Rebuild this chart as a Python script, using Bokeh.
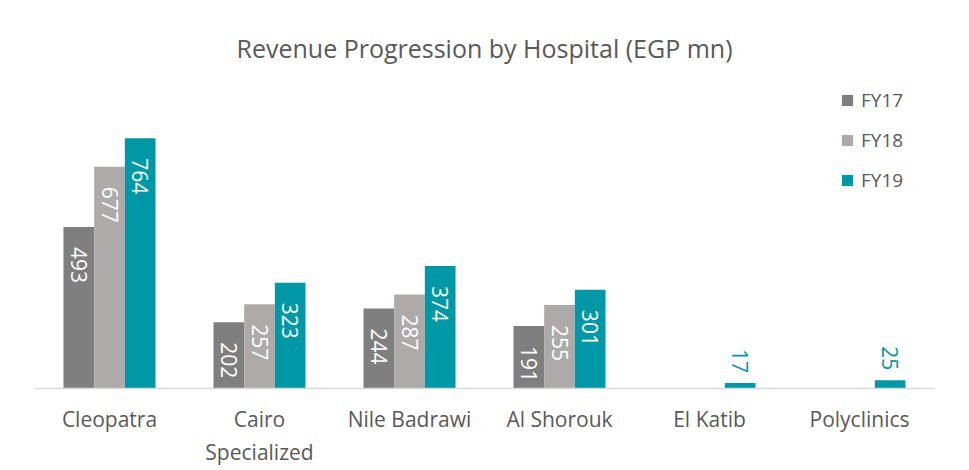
import math
from bokeh.plotting import figure
from bokeh.models import ColumnDataSource, FactorRange
from bokeh.transform import dodge
from bokeh.core.properties import value
from bokeh.embed import file_html
from bokeh.resources import INLINE

categories = ["Cleopatra", "Cairo\nSpecialized", "Nile Badrawi", "Al Shorouk", "El Katib", "Polyclinics"]
series = ["FY17", "FY18", "FY19"]
fy17 = [493, 202, 244, 191, None, None]
fy18 = [677, 257, 287, 255, None, None]
fy19 = [764, 323, 374, 301, 17, 25]
colors = ["#7F7F7F", "#AEAAAA", "#0098A6"]

FONT = "Open Sans"
TXT = "#595959"

p = figure(
    width=960, height=470,
    x_range=FactorRange(factors=categories, range_padding=0),
    y_range=(0, 940),
    output_backend="svg", toolbar_location=None,
    min_border_left=34, min_border_right=26, min_border_top=80, min_border_bottom=82,
    title="Revenue Progression by Hospital (EGP mn)",
)
p.title.align = "center"
p.title.text_font = FONT
p.title.text_font_size = "25px"
p.title.text_font_style = "normal"
p.title.text_color = TXT
p.title.standoff = 32

p.outline_line_color = None
p.grid.visible = False
p.yaxis.visible = False
p.xaxis.axis_line_color = "#D9D9D9"
p.xaxis.axis_line_width = 1.5
p.xaxis.major_tick_line_color = None
p.xaxis.minor_tick_line_color = None
p.xaxis.major_label_text_font = FONT
p.xaxis.major_label_text_font_size = "21px"
p.xaxis.major_label_text_color = TXT
p.xaxis.major_label_standoff = 10

bw = 0.2045
offsets = [-bw, 0.0, bw]
data_series = [fy17, fy18, fy19]

for name, vals, off, col in zip(series, data_series, offsets, colors):
    tops = [float("nan") if v is None else v for v in vals]
    src = ColumnDataSource(dict(cat=categories, top=tops))
    p.vbar(x=dodge("cat", off, range=p.x_range), top="top", width=bw, bottom=0,
           source=src, fill_color=col, line_color=None, legend_label=name)

    cats, ys, labels, aligns, yoffs, tcols = [], [], [], [], [], []
    for c, v in zip(categories, vals):
        if v is None:
            continue
        cats.append(c)
        ys.append(v)
        labels.append(str(v))
        if v >= 100:
            aligns.append("left"); yoffs.append(20); tcols.append("#FFFFFF")
        else:
            aligns.append("right"); yoffs.append(-10); tcols.append(col)
    lsrc = ColumnDataSource(dict(cat=cats, y=ys, label=labels, align=aligns, yoff=yoffs, tcol=tcols))
    p.text(x=dodge("cat", off, range=p.x_range), y="y", text="label", source=lsrc,
           angle=-math.pi / 2, text_align="align", text_baseline="middle",
           y_offset="yoff", text_color="tcol",
           text_font=value(FONT), text_font_size="21px")

lg = p.legend[0]
lg.location = "top_right"
lg.margin = 0
lg.padding = 0
lg.border_line_color = None
lg.background_fill_alpha = 0
lg.glyph_width = 14
lg.glyph_height = 14
lg.label_standoff = 7
lg.label_width = 73
lg.label_height = 40
lg.spacing = 0
lg.label_text_font = FONT
lg.label_text_font_size = "19px"
lg.label_text_color = TXT

open("out.html", "w").write(file_html(p, INLINE))
